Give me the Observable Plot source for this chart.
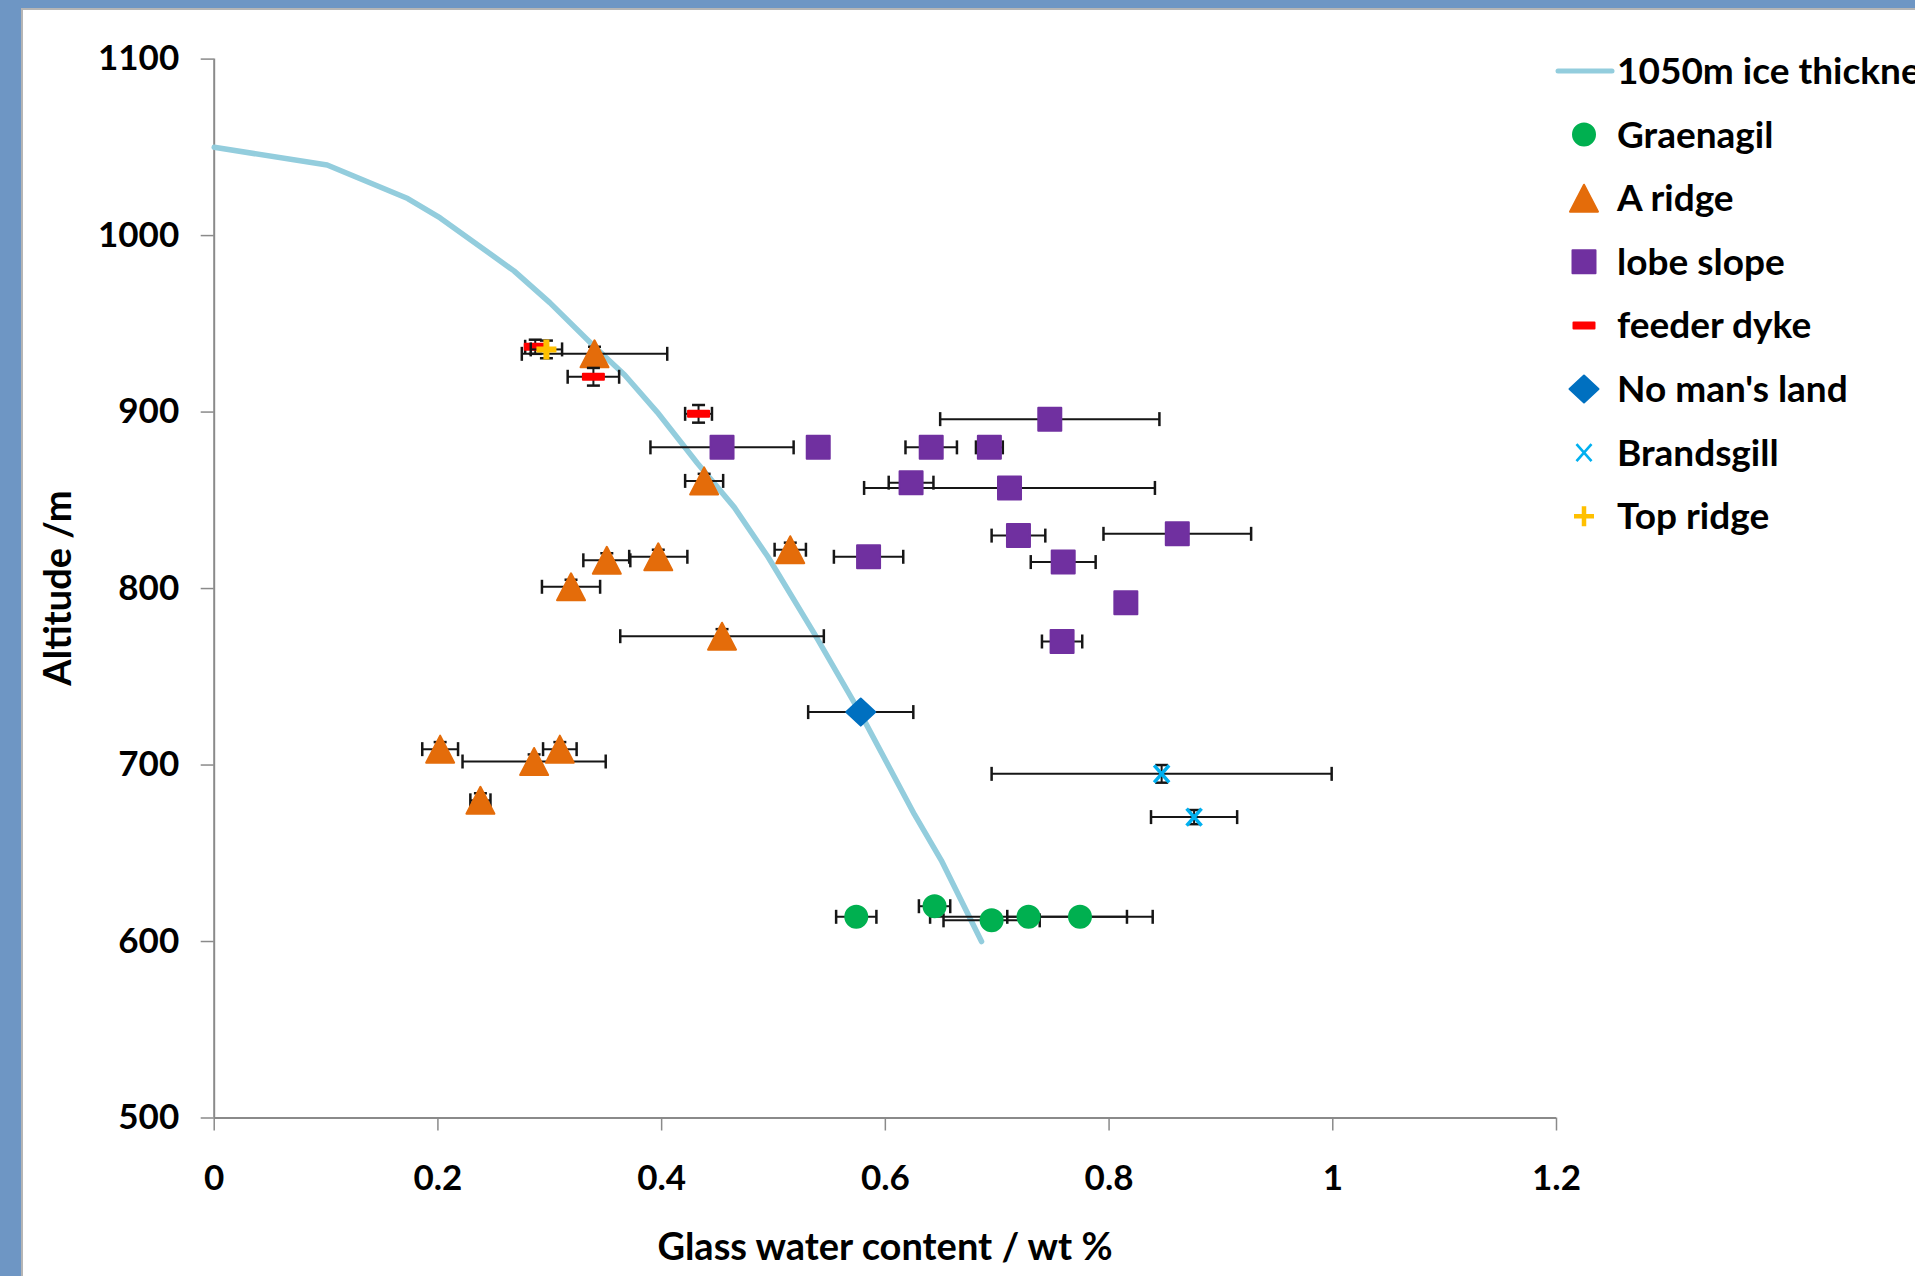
<!DOCTYPE html>
<html><head><meta charset="utf-8">
<script src="https://cdn.jsdelivr.net/npm/d3@7"></script>
<script src="https://cdn.jsdelivr.net/npm/@observablehq/plot@0.6"></script>
<style>
html,body{margin:0;padding:0;width:1915px;height:1276px;overflow:hidden;background:#6e96c4;}
#panel{position:absolute;left:21px;top:8px;width:1920px;height:1300px;background:#fff;border-left:2px solid #b5b5b5;border-top:2px solid #b5b5b5;}
#chart{position:absolute;left:0;top:0;width:1915px;height:1276px;}
#overlay{position:absolute;left:0;top:0;}
</style></head><body>
<div id="panel"></div>
<div id="chart"></div>
<svg id="overlay" width="1915" height="1276"></svg>
<script>
// ---- tick labels ----
const xTicks = [0, 0.2, 0.4, 0.6, 0.8, 1, 1.2];
const yTicks = [500, 600, 700, 800, 900, 1000, 1100];
const xTitle = "Glass water content / wt %";
const yTitle = "Altitude /m";

// ---- 1050m ice thickness curve ----
const iceName = "1050m ice thickness";
const iceX = [0, 0.101, 0.173, 0.202, 0.268, 0.300, 0.340, 0.367, 0.396, 0.432, 0.465, 0.495, 0.536, 0.578, 0.626, 0.650, 0.686];
const iceY = [1050, 1040, 1021, 1010, 980, 962, 937, 921, 900, 871, 846, 818, 775, 729, 672, 646, 600];

// ---- Graenagil ----
const graenagilX = [0.574, 0.644, 0.695, 0.728, 0.774];
const graenagilY = [614, 620, 612, 614, 614];
const graenagilXe = [0.018, 0.014, 0.043, 0.088, 0.065];
const graenagilYe = [0, 0, 0, 0, 0];

// ---- A ridge ----
const aRidgeX = [0.340, 0.438, 0.515, 0.397, 0.351, 0.319, 0.454, 0.202, 0.309, 0.286, 0.238];
const aRidgeY = [933, 861, 822, 818, 816, 801, 773, 709, 709, 702, 680];
const aRidgeXe = [0.065, 0.017, 0.014, 0.026, 0.021, 0.026, 0.091, 0.016, 0.015, 0.064, 0.009];
const aRidgeYe = [4, 4, 4, 4, 4, 4, 4, 4, 4, 4, 4];

// ---- lobe slope ----
const lobeX = [0.454, 0.540, 0.747, 0.641, 0.693, 0.623, 0.711, 0.719, 0.861, 0.585, 0.759, 0.815, 0.758];
const lobeY = [880, 880, 896, 880, 880, 860, 857, 830, 831, 818, 815, 792, 770];
const lobeXe = [0.064, 0, 0.098, 0.023, 0.012, 0.020, 0.130, 0.024, 0.066, 0.031, 0.029, 0, 0.018];
const lobeYe = [0, 0, 0, 0, 0, 0, 0, 0, 0, 0, 0, 0, 0];

// ---- feeder dyke ----
const feederX = [0.287, 0.339, 0.433];
const feederY = [937, 920, 899];
const feederXe = [0.009, 0.023, 0.012];
const feederYe = [4, 5, 5];

// ---- No man's land ----
const noMansX = [0.578];
const noMansY = [730];
const noMansXe = [0.047];
const noMansYe = [0];

// ---- Brandsgill ----
const brandsX = [0.847, 0.876];
const brandsY = [695, 670.5];
const brandsXe = [0.152, 0.0385];
const brandsYe = [5, 4];

// ---- Top ridge ----
const topRidgeX = [0.297];
const topRidgeY = [935.5];
const topRidgeXe = [0.014];
const topRidgeYe = [5];

// ---- symbols (pixel shapes) ----
const sym = {
  circle: {draw(c) { c.moveTo(11, 0); c.arc(0, 0, 11, 0, 2 * Math.PI); }},
  triangle: {draw(c) { c.moveTo(0, -13.5); c.lineTo(14, 13.5); c.lineTo(-14, 13.5); c.closePath(); }},
  square: {draw(c) { c.rect(-11.5, -11.5, 23, 23); }},
  dash: {draw(c) { c.rect(-10.5, -3, 21, 6); }},
  diamond: {draw(c) { c.moveTo(0, -13.5); c.lineTo(14.5, 0); c.lineTo(0, 13.5); c.lineTo(-14.5, 0); c.closePath(); }},
  cross: {draw(c) { c.moveTo(-7.5, -8.5); c.lineTo(7.5, 8.5); c.moveTo(7.5, -8.5); c.lineTo(-7.5, 8.5); }},
  plus: {draw(c) { c.moveTo(-10, 0); c.lineTo(10, 0); c.moveTo(0, -10); c.lineTo(0, 10); }},
  vcap: {draw(c) { c.moveTo(0, -7); c.lineTo(0, 7); }},
  hcap: {draw(c) { c.moveTo(-6.5, 0); c.lineTo(6.5, 0); }}
};

function rows(xs, ys, xe, ye) {
  return xs.map((x, i) => ({x, y: ys[i], xe: xe[i], ye: ye[i]}));
}

const series = [
  {name: "Graenagil", data: rows(graenagilX, graenagilY, graenagilXe, graenagilYe), symbol: sym.circle, color: "#00b050", kind: "fill"},
  {name: "A ridge", data: rows(aRidgeX, aRidgeY, aRidgeXe, aRidgeYe), symbol: sym.triangle, color: "#e46c0a", kind: "fill"},
  {name: "lobe slope", data: rows(lobeX, lobeY, lobeXe, lobeYe), symbol: sym.square, color: "#7030a0", kind: "fill"},
  {name: "feeder dyke", data: rows(feederX, feederY, feederXe, feederYe), symbol: sym.dash, color: "#ff0000", kind: "fill"},
  {name: "No man's land", data: rows(noMansX, noMansY, noMansXe, noMansYe), symbol: sym.diamond, color: "#0070c0", kind: "fill"},
  {name: "Brandsgill", data: rows(brandsX, brandsY, brandsXe, brandsYe), symbol: sym.cross, color: "#00b0f0", kind: "stroke", sw: 3.5},
  {name: "Top ridge", data: rows(topRidgeX, topRidgeY, topRidgeXe, topRidgeYe), symbol: sym.plus, color: "#ffc000", kind: "stroke", sw: 6}
];

const ice = iceX.map((x, i) => ({x, y: iceY[i]}));
const errColor = "#161616";
const axisColor = "#8a8a8a";
const fmt = d => String(d);

const marks = [
  Plot.ruleX([xTicks[0]], {y1: yTicks[0], y2: yTicks[yTicks.length - 1], stroke: axisColor, strokeWidth: 2}),
  Plot.ruleY([yTicks[0]], {x1: xTicks[0], x2: xTicks[xTicks.length - 1], stroke: axisColor, strokeWidth: 2}),
  Plot.axisX(xTicks, {tickSize: 13, tickPadding: 34, stroke: axisColor, strokeWidth: 1.5, fill: "#000", label: null, tickFormat: fmt}),
  Plot.axisY(yTicks, {tickSize: 13, tickPadding: 22, stroke: axisColor, strokeWidth: 1.5, fill: "#000", label: null, tickFormat: fmt}),
  Plot.line(ice, {x: "x", y: "y", stroke: "#93cddd", strokeWidth: 5.5, strokeLinejoin: "round", strokeLinecap: "round"})
];

for (const s of series) {
  const hx = s.data.filter(d => d.xe > 0);
  const vy = s.data.filter(d => d.ye > 0);
  marks.push(
    Plot.ruleY(hx, {y: "y", x1: d => d.x - d.xe, x2: d => d.x + d.xe, stroke: errColor, strokeWidth: 2}),
    Plot.dot(hx.flatMap(d => [{x: d.x - d.xe, y: d.y}, {x: d.x + d.xe, y: d.y}]), {x: "x", y: "y", symbol: sym.vcap, fill: "none", stroke: errColor, strokeWidth: 2.5}),
    Plot.ruleX(vy, {x: "x", y1: d => d.y - d.ye, y2: d => d.y + d.ye, stroke: errColor, strokeWidth: 2}),
    Plot.dot(vy.flatMap(d => [{x: d.x, y: d.y - d.ye}, {x: d.x, y: d.y + d.ye}]), {x: "x", y: "y", symbol: sym.hcap, fill: "none", stroke: errColor, strokeWidth: 2.5})
  );
  if (s.kind === "fill") {
    marks.push(Plot.dot(s.data, {x: "x", y: "y", symbol: s.symbol, fill: s.color, stroke: s.color, strokeWidth: 2, strokeLinejoin: "round"}));
  } else {
    marks.push(Plot.dot(s.data, {x: "x", y: "y", symbol: s.symbol, fill: "none", stroke: s.color, strokeWidth: s.sw, strokeLinecap: "butt"}));
  }
}

const chart = Plot.plot({
  width: 1915,
  height: 1276,
  marginLeft: 213.7,
  marginRight: 359,
  marginTop: 58.6,
  marginBottom: 158.5,
  style: {background: "transparent", fontFamily: "Lato, 'Open Sans', sans-serif", fontSize: "35px", fontWeight: "bold", color: "#000", overflow: "visible"},
  x: {domain: [xTicks[0], xTicks[xTicks.length - 1]]},
  y: {domain: [yTicks[0], yTicks[yTicks.length - 1]]},
  marks
});
document.getElementById("chart").appendChild(chart);

// ---- titles and legend (overlay) ----
const ov = d3.select("#overlay").style("font-family", "Lato, 'Open Sans', sans-serif").style("font-weight", "bold");
ov.append("text").attr("x", 885).attr("y", 1260).attr("text-anchor", "middle").attr("font-size", 38).text(xTitle);
ov.append("text").attr("transform", "translate(71,588) rotate(-90)").attr("text-anchor", "middle").attr("font-size", 38).text(yTitle);

const legX = 1584, legTextX = 1617, legY0 = 71, legStep = 63.6;
const lg = ov.append("g");
lg.append("line").attr("x1", 1558).attr("x2", 1612).attr("y1", legY0).attr("y2", legY0).attr("stroke", "#93cddd").attr("stroke-width", 5).attr("stroke-linecap", "round");
lg.append("text").attr("x", legTextX).attr("y", legY0 + 13).attr("font-size", 37).text(iceName);
series.forEach((s, i) => {
  const cy = legY0 + legStep * (i + 1);
  const p = lg.append("path").attr("transform", `translate(${legX},${cy})`).attr("d", d3.symbol(s.symbol)());
  if (s.kind === "fill") p.attr("fill", s.color).attr("stroke", s.color).attr("stroke-width", 2).attr("stroke-linejoin", "round");
  else p.attr("fill", "none").attr("stroke", s.color).attr("stroke-width", s.sw * 0.75);
  lg.append("text").attr("x", legTextX).attr("y", cy + 13).attr("font-size", 37).text(s.name);
});
</script>
</body></html>
